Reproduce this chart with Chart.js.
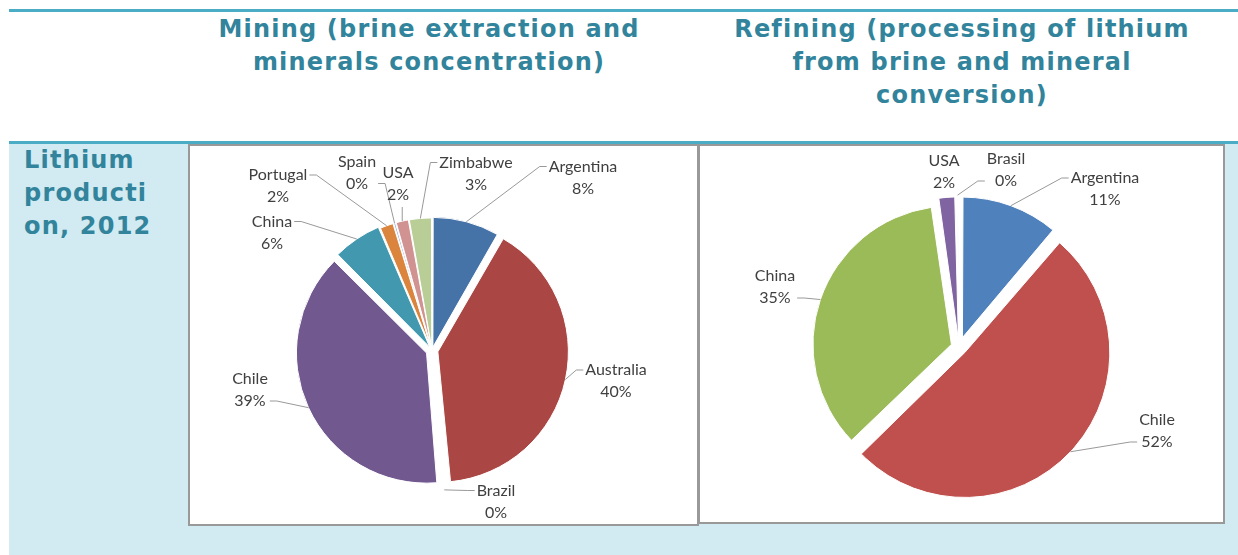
<!DOCTYPE html>
<html>
<head>
<meta charset="utf-8">
<script src="https://cdn.jsdelivr.net/npm/chart.js@4.4.0/dist/chart.umd.min.js"></script>
<style>
    body { margin: 0; background: #fff; }
    #page { position: relative; width: 1238px; height: 555px; overflow: hidden; font-family: "DejaVu Sans", Verdana, sans-serif; }
    .rule { position: absolute; left: 9px; right: 0; height: 3px; background: #4bacc6; }
    #cell { position: absolute; left: 9px; right: 0; top: 144px; bottom: 0; background: #d2eaf1; }
    .head { position: absolute; color: #31849b; font-weight: bold; font-size: 24px; letter-spacing: 1.2px;
            line-height: 33px; white-space: nowrap; }
    .center { text-align: center; }
    .box { position: absolute; background: #fff; border: 2px solid #999; }
    .box canvas { display: block; }
</style>
</head>
<body>
<div id="page">
    <div class="rule" style="top:9px"></div>
    <div class="head center" style="left:189px; width:480px; top:13px">Mining (brine extraction and<br>minerals concentration)</div>
    <div class="head center" style="left:722px; width:480px; top:13px">Refining (processing of lithium<br>from brine and mineral<br>conversion)</div>
    <div class="rule" style="top:141px"></div>
    <div id="cell"></div>
    <div class="head" style="left:24px; top:144px">Lithium<br>producti<br>on, 2012</div>
    <div class="box" style="left:188px; top:144px; width:507px; height:378px">
        <canvas id="miningchart" width="507" height="378"></canvas>
    </div>
    <div class="box" style="left:698px; top:144px; width:523px; height:376px">
        <canvas id="refiningchart" width="523" height="376"></canvas>
    </div>
</div>
<script>
// Lithium production 2012, share per country
var miningLabels = ['Argentina', 'Australia', 'Brazil', 'Chile', 'China', 'Portugal', 'Spain', 'USA', 'Zimbabwe'];
var miningValues = [8.3, 40.2, 0.2, 38.8, 6.1, 1.7, 0.3, 1.6, 2.8];

var refiningLabels = ['Argentina', 'Chile', 'China', 'USA', 'Brasil'];
var refiningValues = [11.2, 51.6, 34.9, 2.0, 0.3];

// styling
var miningColors = ['#4572a7', '#aa4643', '#89a54e', '#71588f', '#4198af', '#db843d', '#93a9cf', '#d19392', '#b9cd96'];
var refiningColors = ['#4f81bd', '#c0504d', '#9bbb59', '#8064a2', '#4bacc6'];

// how far each slice is pulled out (px)
var miningExplode = [3.5, 6, 6, 6, 4, 2.5, 2.5, 2.5, 2.5];
var refiningExplode = [10, 8, 8, 7, 7.5];

// label box centre relative to the pie centre, and which text row the leader line meets
var miningLabelAt = [[151, -173], [184, 30.5], [64, 151], [-182, 39.5], [-160, -118],
                     [-154, -164.5], [-75, -178], [-34, -166.5], [44, -177]];
var miningLeaderRow = [0, 0, 0, 1, 0, 0, 1, 0, 0];
var refiningLabelAt = [[146, -158], [198, 84], [-184, -60], [-15, -175], [47, -177]];
var refiningLeaderRow = [0, 1, 1, 0, 1];

// Excel-like outside labels with leader lines
var sliceLabels = {
    id: 'sliceLabels',
    afterDatasetsDraw: function(chart, args, opts) {
        var ctx = chart.ctx;
        var meta = chart.getDatasetMeta(0);
        var values = chart.data.datasets[0].data;
        var total = values.reduce(function(a, b) { return a + b; }, 0);
        ctx.save();
        ctx.font = '16px Lato';
        ctx.textAlign = 'center';
        ctx.textBaseline = 'middle';
        ctx.lineWidth = 1;
        meta.data.forEach(function(arc, i) {
            var p = arc.getProps(['x', 'y', 'startAngle', 'endAngle', 'outerRadius', 'circumference'], true);
            // same maths chart.js uses when it draws an offset arc
            var off = (arc.options.offset || 0) / 4;
            var fix = 1 - Math.sin(Math.min(Math.PI, p.circumference || 0));
            var mid = (p.startAngle + p.endAngle) / 2;
            var r = p.outerRadius + off + off * fix;
            var ax = p.x + Math.cos(mid) * r;
            var ay = p.y + Math.sin(mid) * r;

            var lines = [chart.data.labels[i], Math.round(values[i] / total * 100) + '%'];
            var cx = p.x + opts.at[i][0];
            var cy = p.y + opts.at[i][1];
            var w = Math.max(ctx.measureText(lines[0]).width, ctx.measureText(lines[1]).width);
            var left = cx - w / 2;
            var right = cx + w / 2;
            var rowY = cy - 11 + 22 * opts.rows[i];

            ctx.strokeStyle = '#999';
            ctx.beginPath();
            if (left > ax + 4) {
                ctx.moveTo(ax, ay);
                ctx.lineTo(left - 9, rowY);
                ctx.lineTo(left - 2, rowY);
            } else if (right < ax - 4) {
                ctx.moveTo(ax, ay);
                ctx.lineTo(right + 9, rowY);
                ctx.lineTo(right + 2, rowY);
            } else if (ay - (cy + 22) > 6) {
                ctx.moveTo(ax, ay);
                ctx.lineTo(ax, cy + 23);
            }
            ctx.stroke();

            ctx.fillStyle = '#404040';
            ctx.fillText(lines[0], cx, cy - 11);
            ctx.fillText(lines[1], cx, cy + 11);
        });
        ctx.restore();
    }
};

function piechart(canvasid, labels, values, colors, explode, radius, padding, labelAt, rows) {
    var ctx = document.getElementById(canvasid).getContext('2d');
    return new Chart(ctx, {
        type: 'pie',
        data: {
            labels: labels,
            datasets: [{
                data: values,
                backgroundColor: colors,
                borderColor: '#ffffff',
                borderWidth: 1,
                offset: explode.map(function(d) { return d * 4; })
            }]
        },
        options: {
            responsive: false,
            animation: false,
            radius: radius,
            layout: { padding: padding },
            plugins: {
                legend: { display: false },
                tooltip: { enabled: false },
                sliceLabels: { at: labelAt, rows: rows }
            }
        },
        plugins: [sliceLabels]
    });
}

piechart('miningchart', miningLabels, miningValues, miningColors, miningExplode, 128,
    { left: 0, right: 23, top: 31, bottom: 0 }, miningLabelAt, miningLeaderRow);
piechart('refiningchart', refiningLabels, refiningValues, refiningColors, refiningExplode, 137,
    { left: 0, right: 5, top: 26, bottom: 0 }, refiningLabelAt, refiningLeaderRow);
</script>
</body>
</html>
